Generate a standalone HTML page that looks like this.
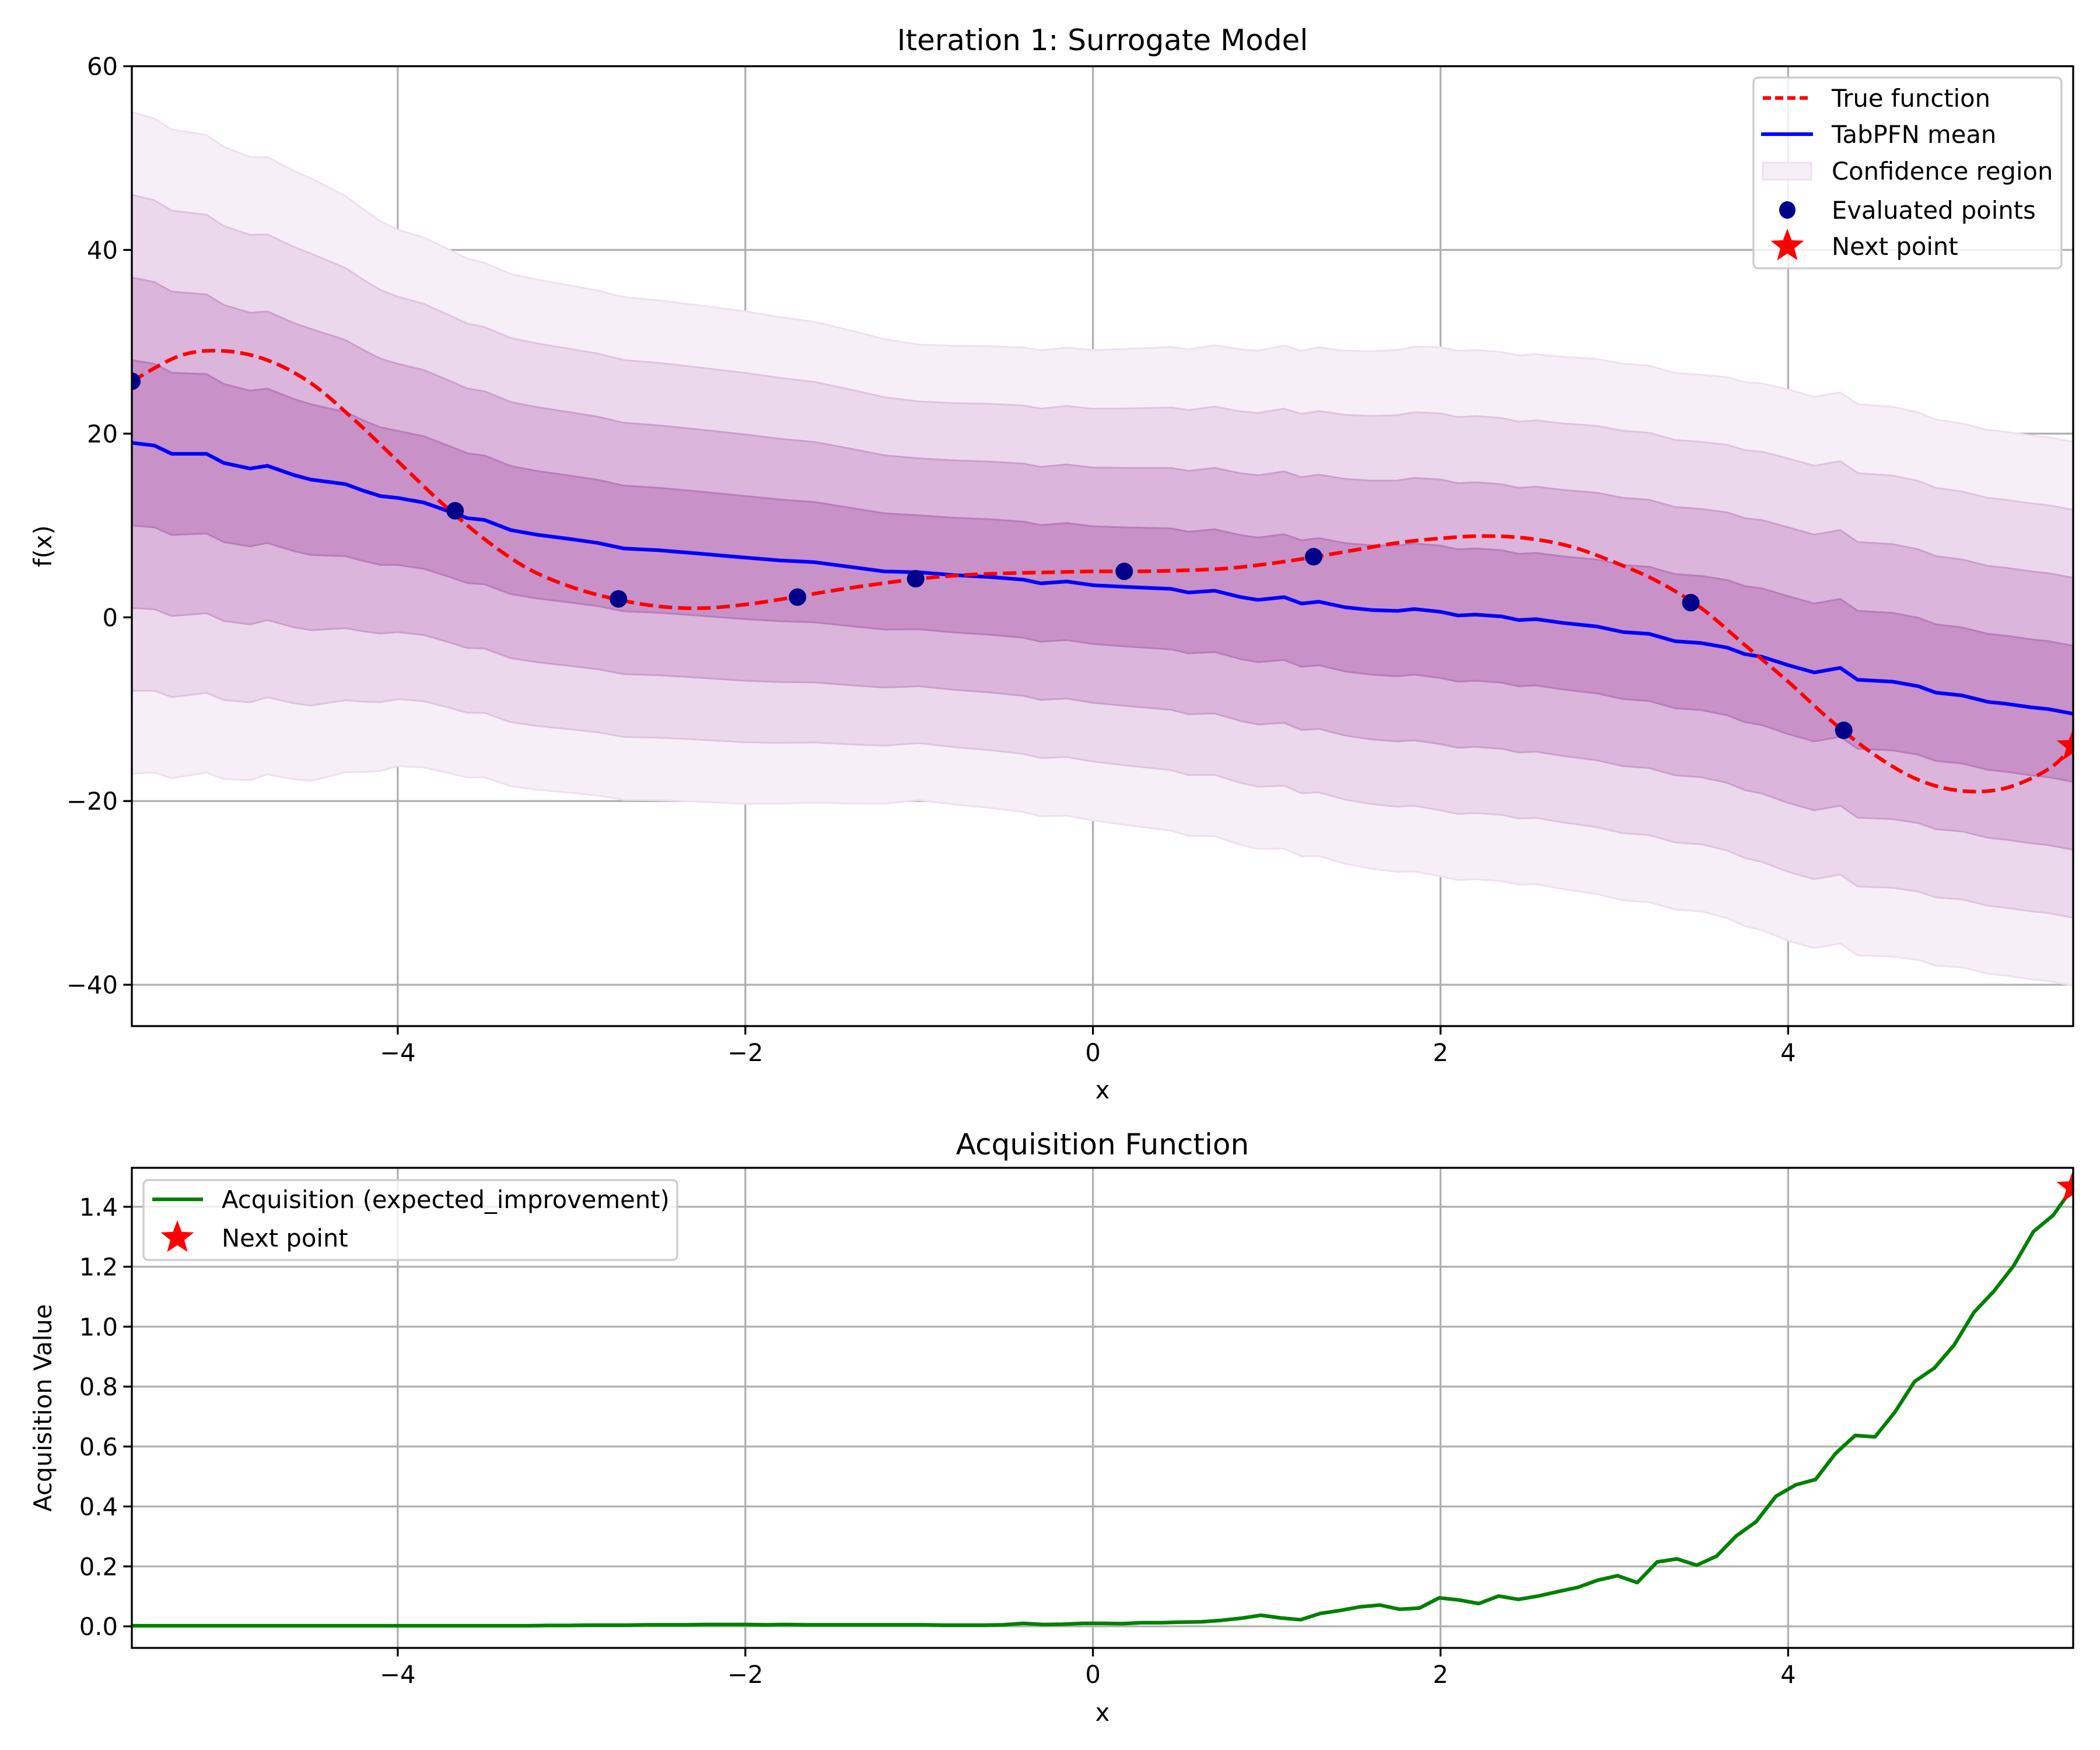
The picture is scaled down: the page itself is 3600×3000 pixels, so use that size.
<!DOCTYPE html>
<html><head><meta charset="utf-8">
<style>
html,body{margin:0;padding:0;background:#fff;}
svg{display:block;font-family:"DejaVu Sans","Liberation Sans",sans-serif;}
</style></head>
<body>
<svg id="fig" width="3600" height="3000" viewBox="0 0 3600 3000" xmlns="http://www.w3.org/2000/svg"></svg>
<script>
// ---------- data ----------
const meanX = [-5.53,-5.4,-5.3,-5.1,-5.0,-4.85,-4.75,-4.6,-4.5,-4.3,-4.2,-4.1,-4.0,-3.85,-3.7,-3.6,-3.5,-3.35,-3.2,-3.0,-2.85,-2.7,-2.5,-2.3,-2.0,-1.8,-1.6,-1.4,-1.2,-1.0,-0.8,-0.6,-0.4,-0.3,-0.15,0,0.2,0.45,0.55,0.7,0.85,0.95,1.1,1.2,1.3,1.45,1.6,1.75,1.85,2.0,2.1,2.2,2.35,2.45,2.55,2.7,2.9,3.05,3.2,3.35,3.5,3.65,3.75,3.85,4.0,4.15,4.3,4.4,4.6,4.75,4.85,5.0,5.15,5.25,5.4,5.5,5.64];
const meanY = [19,18.7,17.8,17.8,16.8,16.2,16.5,15.5,15,14.5,13.8,13.2,13,12.5,11.5,10.8,10.6,9.5,9,8.5,8.1,7.5,7.3,7,6.5,6.2,6,5.5,5.0,4.9,4.6,4.4,4.1,3.7,3.9,3.5,3.3,3.1,2.7,2.9,2.2,1.9,2.2,1.5,1.7,1.1,0.8,0.7,0.9,0.6,0.2,0.3,0.1,-0.3,-0.2,-0.6,-1.0,-1.6,-1.8,-2.6,-2.8,-3.3,-4.0,-4.3,-5.2,-6,-5.5,-6.8,-7.0,-7.5,-8.2,-8.5,-9.2,-9.4,-9.8,-10.0,-10.5];
const spreadX = [-5.53,-5.0,-4.5,-4.0,-3.5,-3.0,-2.5,-2.0,-1.5,-1.0,-0.5,0.0,0.5,1.0,1.5,2.0,2.5,3.0,3.5,4.0,4.5,5.0,5.5,5.64];
const spread = [9,8.6,8.2,7.3,7.0,6.9,6.8,6.7,6.5,6.2,6.3,6.4,6.6,6.8,7.0,7.2,7.2,7.3,7.3,7.5,7.5,7.4,7.4,7.4];
const bandMult = [4,3,2,1];
const trueX = [-5.53,-5.25,-5.0,-4.75,-4.5,-4.25,-4.0,-3.75,-3.5,-3.25,-3.0,-2.75,-2.5,-2.25,-2.0,-1.75,-1.5,-1.25,-1.0,-0.75,-0.5,-0.25,0,0.25,0.5,0.75,1.0,1.25,1.5,1.75,2.0,2.25,2.5,2.75,3.0,3.25,3.5,3.75,4.0,4.25,4.5,4.75,5.0,5.25,5.5,5.64];
const trueY = [25.7,28.5,29,28,25.5,21.5,17,12.5,8.5,5.3,3.3,2,1.2,1,1.4,2.1,2.9,3.6,4.2,4.6,4.8,4.9,5,5,5.1,5.3,5.8,6.5,7.3,8.1,8.6,8.85,8.6,7.7,6,3.9,1,-3,-7,-11.3,-15,-17.7,-18.9,-18.6,-16.5,-14];
const evalX = [-5.53,-3.67,-2.73,-1.7,-1.02,0.18,1.27,3.44,4.32];
const evalY = [25.7,11.6,2.0,2.2,4.2,5.0,6.6,1.6,-12.3];
const nextX = 5.64, nextY = -14, nextAcq = 1.465;
const acqStart = -5.529, acqStep = 0.11396;
const acqY = [0.002,0.002,0.002,0.002,0.002,0.002,0.002,0.002,0.002,0.002,0.002,0.002,0.002,0.002,0.002,0.002,0.002,0.002,0.002,0.002,0.002,
0.003,0.003,0.004,0.004,0.004,0.005,0.005,0.005,0.006,0.006,
0.006,0.005,0.006,0.005,0.005,0.005,0.005,0.005,0.005,0.005,0.004,0.004,0.004,0.005,
0.01,0.006,0.007,0.01,0.01,0.009,0.012,0.012,0.014,0.015,0.02,0.027,0.037,0.028,0.022,0.043,
0.053,0.065,0.071,0.057,0.061,0.095,0.088,0.076,0.101,0.090,0.101,0.116,0.130,0.154,0.169,0.146,0.215,0.225,0.204,0.234,0.302,0.349,0.434,0.472,0.490,0.576,0.637,0.632,0.714,0.817,0.862,0.939,1.048,1.118,1.203,1.317,1.372,1.465];
const xTicks = [-4,-2,0,2,4];
const yTicksTop = [-40,-20,0,20,40,60];
const yTicksBot = [0.0,0.2,0.4,0.6,0.8,1.0,1.2,1.4];

// ---------- layout ----------
const NS="http://www.w3.org/2000/svg";
const svg=document.getElementById('fig');
function el(tag,attrs,parent){const e=document.createElementNS(NS,tag);for(const k in attrs)e.setAttribute(k,attrs[k]);(parent||svg).appendChild(e);return e;}
const L=226,R=3554;
const xmin=-5.53,xmax=5.64;
const sx=v=>L+(v-xmin)/(xmax-xmin)*(R-L);
const T1=113.5,B1=1759, y1min=-44.5,y1max=60;
const sy1=v=>B1-(v-y1min)/(y1max-y1min)*(B1-T1);
const T2=2002,B2=2825, y2min=-0.072,y2max=1.53;
const sy2=v=>B2-(v-y2min)/(y2max-y2min)*(B2-T2);
const FS=41.7;
function interp(xs,ys,x){if(x<=xs[0])return ys[0];for(let i=1;i<xs.length;i++){if(x<=xs[i]){const t=(x-xs[i-1])/(xs[i]-xs[i-1]);return ys[i-1]+t*(ys[i]-ys[i-1]);}}return ys[ys.length-1];}

function clip(id,T,B){const c=el('clipPath',{id:id});el('rect',{x:L,y:T,width:R-L,height:B-T},c);}
clip('c1',T1,B1);clip('c2',T2,B2);

function grid(T,B,sy,yt,g){
  xTicks.forEach(v=>{const l=el('line',{x1:sx(v),x2:sx(v),y1:T,y2:B,stroke:'#b0b0b0','stroke-width':3.3},g);
  });
  yt.forEach(v=>{const l=el('line',{x1:L,x2:R,y1:sy(v),y2:sy(v),stroke:'#b0b0b0','stroke-width':3.3},g);
  });
}
function axes(T,B,sy,yt,fmt,g){
  const f=el('rect',{x:L,y:T,width:R-L,height:B-T,fill:'none',stroke:'#000','stroke-width':3.3},g);
  
  xTicks.forEach(v=>{el('line',{x1:sx(v),x2:sx(v),y1:B,y2:B+14.6,stroke:'#000','stroke-width':3.3},g);
    const t=el('text',{x:sx(v),y:B+60,'font-size':FS,'text-anchor':'middle'},g);
    t.textContent=(v<0?'\u2212':'')+Math.abs(v);
    });
  yt.forEach(v=>{el('line',{x1:L-14.6,x2:L,y1:sy(v),y2:sy(v),stroke:'#000','stroke-width':3.3},g);
    const t=el('text',{x:L-24,y:sy(v)+15,'font-size':FS,'text-anchor':'end'},g);
    t.textContent=fmt(v);
    });
}
function star(cx,cy,r,parent){
  let p='';for(let i=0;i<10;i++){const a=-Math.PI/2+i*Math.PI/5;const rr=i%2?r*0.42:r;p+=(i?'L':'M')+(cx+rr*Math.cos(a)).toFixed(1)+','+(cy+rr*Math.sin(a)).toFixed(1);}
  return el('path',{d:p+'Z',fill:'#ff0000'},parent);
}
function smoothPath(xs,ys,sy){
  const P=xs.map((x,i)=>[sx(x),sy(ys[i])]);let d='M'+P[0][0]+','+P[0][1];
  for(let i=0;i<P.length-1;i++){const p0=P[i-1]||P[i],p1=P[i],p2=P[i+1],p3=P[i+2]||P[i+1];
    d+=' C'+(p1[0]+(p2[0]-p0[0])/6)+','+(p1[1]+(p2[1]-p0[1])/6)+' '+(p2[0]-(p3[0]-p1[0])/6)+','+(p2[1]-(p3[1]-p1[1])/6)+' '+p2[0]+','+p2[1];}
  return d;
}

// ---------- top chart ----------
const g1=el('g',{});
grid(T1,B1,sy1,yTicksTop,g1);
const bandFill=['#f7eff7','#ecd8ec','#dbb5db','#c891c8'];
const bandEdge=['#efdfef','#e0c2e0','#cc9ecc','#b97cb9'];
const pb=el('g',{'clip-path':'url(#c1)'},g1);
bandMult.forEach((k,bi)=>{
  let d='';meanX.forEach((x,i)=>{d+=(i?'L':'M')+sx(x).toFixed(1)+','+sy1(meanY[i]+k*interp(spreadX,spread,x)).toFixed(1);});
  for(let i=meanX.length-1;i>=0;i--)d+='L'+sx(meanX[i]).toFixed(1)+','+sy1(meanY[i]-k*interp(spreadX,spread,meanX[i])).toFixed(1);
  const p=el('path',{d:d+'Z',fill:bandFill[bi],stroke:bandEdge[bi],'stroke-width':3},pb);
  
});
let md='';meanX.forEach((x,i)=>{md+=(i?'L':'M')+sx(x).toFixed(1)+','+sy1(meanY[i]).toFixed(1);});
const ml=el('path',{d:md,fill:'none',stroke:'#0000ff','stroke-width':6.25,'stroke-linejoin':'round'},pb);

const tl=el('path',{d:smoothPath(trueX,trueY,sy1),fill:'none',stroke:'#ff0000','stroke-width':6.25,'stroke-dasharray':'23 10'},pb);

const pg=el('g',{'clip-path':'url(#c1)'},g1);
evalX.forEach((x,i)=>{const c=el('circle',{cx:sx(x),cy:sy1(evalY[i]),r:15,fill:'#00008b'},pg);
  });
const s1=star(sx(nextX),sy1(nextY),30,pg);

axes(T1,B1,sy1,yTicksTop,v=>(v<0?'\u2212':'')+Math.abs(v),g1);
</script>
<script>
(function(){
const t1=el('text',{x:1890,y:86,'font-size':50,'text-anchor':'middle'});t1.textContent='Iteration 1: Surrogate Model';

const xl1=el('text',{x:1890,y:1883,'font-size':FS,'text-anchor':'middle'});xl1.textContent='x';

const yl1=el('text',{x:88,y:(T1+B1)/2,'font-size':FS,'text-anchor':'middle',transform:'rotate(-90 88 '+((T1+B1)/2)+')'});yl1.textContent='f(x)';


const lg=el('g',{});
el('rect',{x:3006,y:133,width:528,height:327,rx:8,fill:'#fff','fill-opacity':0.8,stroke:'#cccccc','stroke-width':3.3},lg);
const ys=[168,230,293,360,422],labels=['True function','TabPFN mean','Confidence region','Evaluated points','Next point'];
el('line',{x1:3022,x2:3105,y1:ys[0],y2:ys[0],stroke:'#ff0000','stroke-width':6.25,'stroke-dasharray':'14 7'},lg);
el('line',{x1:3019,x2:3108,y1:ys[1],y2:ys[1],stroke:'#0000ff','stroke-width':6.25},lg);
el('rect',{x:3022,y:ys[2]-14,width:83,height:29,fill:'#f7eff7',stroke:'#efdfef','stroke-width':3},lg);
el('ellipse',{cx:3064,cy:ys[3],rx:14,ry:15,fill:'#00008b'},lg);
star(3064,ys[4],30,lg);
labels.forEach((s,i)=>{const t=el('text',{x:3140,y:ys[i]+15,'font-size':FS},lg);t.textContent=s;
  });

const g2=el('g',{});
grid(T2,B2,sy2,yTicksBot,g2);
const pc=el('g',{'clip-path':'url(#c2)'},g2);
let ad='';acqY.forEach((v,i)=>{ad+=(i?'L':'M')+sx(acqStart+i*acqStep).toFixed(1)+','+sy2(v).toFixed(1);});
const al=el('path',{d:ad,fill:'none',stroke:'#008000','stroke-width':6.25,'stroke-linejoin':'round'},pc);

const s2=star(sx(nextX),sy2(nextAcq),30,pc);

axes(T2,B2,sy2,yTicksBot,v=>v.toFixed(1),g2);
const t2=el('text',{x:1890,y:1979,'font-size':50,'text-anchor':'middle'});t2.textContent='Acquisition Function';

const xl2=el('text',{x:1890,y:2950,'font-size':FS,'text-anchor':'middle'});xl2.textContent='x';

const yl2=el('text',{x:88,y:(T2+B2)/2,'font-size':FS,'text-anchor':'middle',transform:'rotate(-90 88 '+((T2+B2)/2)+')'});yl2.textContent='Acquisition Value';


const lg2=el('g',{});
el('rect',{x:246,y:2023,width:915,height:137,rx:8,fill:'#fff','fill-opacity':0.8,stroke:'#cccccc','stroke-width':3.3},lg2);
el('line',{x1:261,x2:348,y1:2056,y2:2056,stroke:'#008000','stroke-width':6.25},lg2);
star(304,2122,30,lg2);
const a1=el('text',{x:380,y:2071,'font-size':FS},lg2);a1.textContent='Acquisition (expected_improvement)';

const a2=el('text',{x:380,y:2137,'font-size':FS},lg2);a2.textContent='Next point';

})();
</script>
</body></html>
